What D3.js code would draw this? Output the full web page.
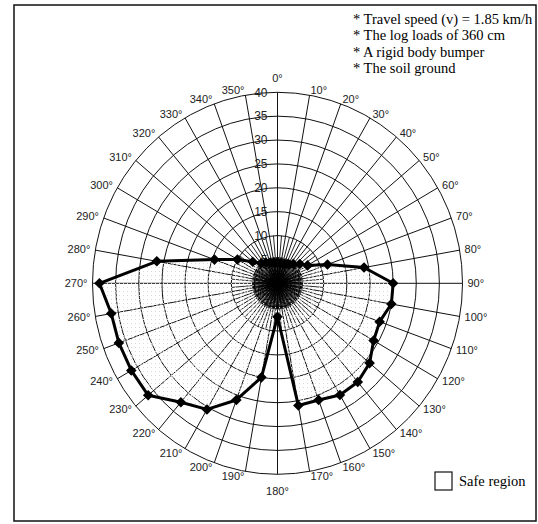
<!DOCTYPE html>
<html><head><meta charset="utf-8">
<script src="https://cdn.jsdelivr.net/npm/d3@7"></script>
<style>body{margin:0;background:#fff}svg{display:block}</style>
</head><body>
<script>
// Data
const angles = [0,10,20,30,40,50,60,70,80,90,100,110,120,130,140,150,160,170,180,190,200,210,220,230,240,250,260,270,280,290,300,310,320,330,340,350];
const values = [4.3,4.2,4.3,4.7,5.3,6.3,7.5,11.5,19,25,25,23.5,24,26,27,27,26,26,7,20,26,30.5,32.5,36.5,36.5,36.5,36.5,38.5,26.5,14.5,10,7,5.5,5,4.6,4.4];
const ringTicks = [5,10,15,20,25,30,35,40];
const angleTicks = [0,10,20,30,40,50,60,70,80,90,100,110,120,130,140,150,160,170,180,190,200,210,220,230,240,250,260,270,280,290,300,310,320,330,340,350];
const notes = ["* Travel speed (v) = 1.85 km/h","* The log loads of 360 cm","* A rigid body bumper","* The soil ground"];
const legendLabel = "Safe region";

const W = 538, H = 524;
const cx = 277.5, cy = 283.3;
const rx = d3.scaleLinear().domain([0,40]).range([0,185]);
const ry = d3.scaleLinear().domain([0,40]).range([0,191]);
const rad = a => a*Math.PI/180;
const px = (a,v) => cx + rx(v)*Math.sin(rad(a));
const py = (a,v) => cy - ry(v)*Math.cos(rad(a));

const svg = d3.select("body").append("svg").attr("width",W).attr("height",H);

const defs = svg.append("defs");
const pat = defs.append("pattern").attr("id","stip").attr("patternUnits","userSpaceOnUse").attr("width",4).attr("height",4);
pat.append("rect").attr("x",0).attr("y",0).attr("width",2).attr("height",2).attr("fill","#fff").attr("opacity",0.45);
pat.append("rect").attr("x",3).attr("y",3).attr("width",1).attr("height",1).attr("fill","#d8d8d8");

// frame
svg.append("rect").attr("x",14).attr("y",5).attr("width",522).attr("height",516)
  .attr("fill","none").attr("stroke","#111").attr("stroke-width",1.5);

const g = svg.append("g");
// rings
g.selectAll("ellipse.ring").data(ringTicks).join("ellipse").attr("class","ring")
  .attr("cx",cx).attr("cy",cy).attr("rx",d=>rx(d)).attr("ry",d=>ry(d))
  .attr("fill","none").attr("stroke","#111").attr("stroke-width",1);
// main spokes
g.selectAll("line.sp").data(angleTicks).join("line").attr("class","sp")
  .attr("x1",cx).attr("y1",cy).attr("x2",d=>px(d,40)).attr("y2",d=>py(d,40))
  .attr("stroke","#111").attr("stroke-width",1);
// dense inner spokes
const inner5 = d3.range(5,360,10);
g.selectAll("line.sp5").data(inner5).join("line").attr("class","sp5")
  .attr("x1",cx).attr("y1",cy).attr("x2",d=>px(d,10)).attr("y2",d=>py(d,10))
  .attr("stroke","#111").attr("stroke-width",0.9);

// ring labels
g.selectAll("text.rl").data(ringTicks).join("text").attr("class","rl")
  .attr("x",cx-10).attr("y",d=>cy-ry(d)).attr("dy","0.36em")
  .attr("text-anchor","end").attr("font-family","Liberation Sans, Arial, sans-serif")
  .attr("font-size",12).attr("fill","#222").text(d=>d);

// angle labels
g.selectAll("text.al").data(angleTicks).join("text").attr("class","al")
  .each(function(a){
    const s = Math.sin(rad(a)), c = Math.cos(rad(a));
    const t = d3.select(this);
    if (a===0) { t.attr("x",cx).attr("y",cy-ry(40)-14).attr("text-anchor","middle"); }
    else if (a===180) { t.attr("x",cx).attr("y",cy+ry(40)+17).attr("text-anchor","middle"); }
    else {
      t.attr("x",cx+(rx(40)+5)*s).attr("y",cy-(ry(40)+5)*c)
       .attr("text-anchor", s>0 ? "start" : "end");
    }
  })
  .attr("dy","0.36em").attr("font-family","Liberation Sans, Arial, sans-serif")
  .attr("font-size",11).attr("fill","#222").text(d=>d+"°");

// data polygon
const pts = angles.map((a,i)=>[px(a,values[i]),py(a,values[i])]);
const line = d3.line().curve(d3.curveLinearClosed);
g.append("path").attr("d",line(pts)).attr("fill","url(#stip)").attr("stroke","none");

// very dense spokes at the centre (drawn over the fill)
const inner2 = d3.range(2.5,360,5);
g.selectAll("line.sp2").data(inner2).join("line").attr("class","sp2")
  .attr("x1",cx).attr("y1",cy).attr("x2",d=>px(d,5.5)).attr("y2",d=>py(d,5.5))
  .attr("stroke","#000").attr("stroke-width",1);
g.selectAll("line.sp3").data(angleTicks).join("line").attr("class","sp3")
  .attr("x1",cx).attr("y1",cy).attr("x2",d=>px(d,5.5)).attr("y2",d=>py(d,5.5))
  .attr("stroke","#000").attr("stroke-width",1);

g.append("path").attr("d",line(pts)).attr("fill","none").attr("stroke","#000").attr("stroke-width",3).attr("stroke-linejoin","round");
const diamond = d3.symbol().type(d3.symbolSquare).size(56);
g.selectAll("path.mk").data(pts).join("path").attr("class","mk")
  .attr("d",diamond).attr("transform",d=>`translate(${d[0]},${d[1]}) rotate(45)`).attr("fill","#000");

// notes
svg.append("g").selectAll("text").data(notes).join("text")
  .attr("x",353).attr("y",(d,i)=>24+i*16.3)
  .attr("font-family","Liberation Serif, Times New Roman, serif").attr("font-size",14.5).attr("fill","#000")
  .text(d=>d);

// legend
svg.append("rect").attr("x",435).attr("y",472).attr("width",17).attr("height",18)
  .attr("fill","#fff").attr("stroke","#111").attr("stroke-width",1.2);
svg.append("text").attr("x",459).attr("y",486).attr("font-family","Liberation Serif, Times New Roman, serif")
  .attr("font-size",14.5).attr("fill","#000").text(legendLabel);
</script>
</body></html>
